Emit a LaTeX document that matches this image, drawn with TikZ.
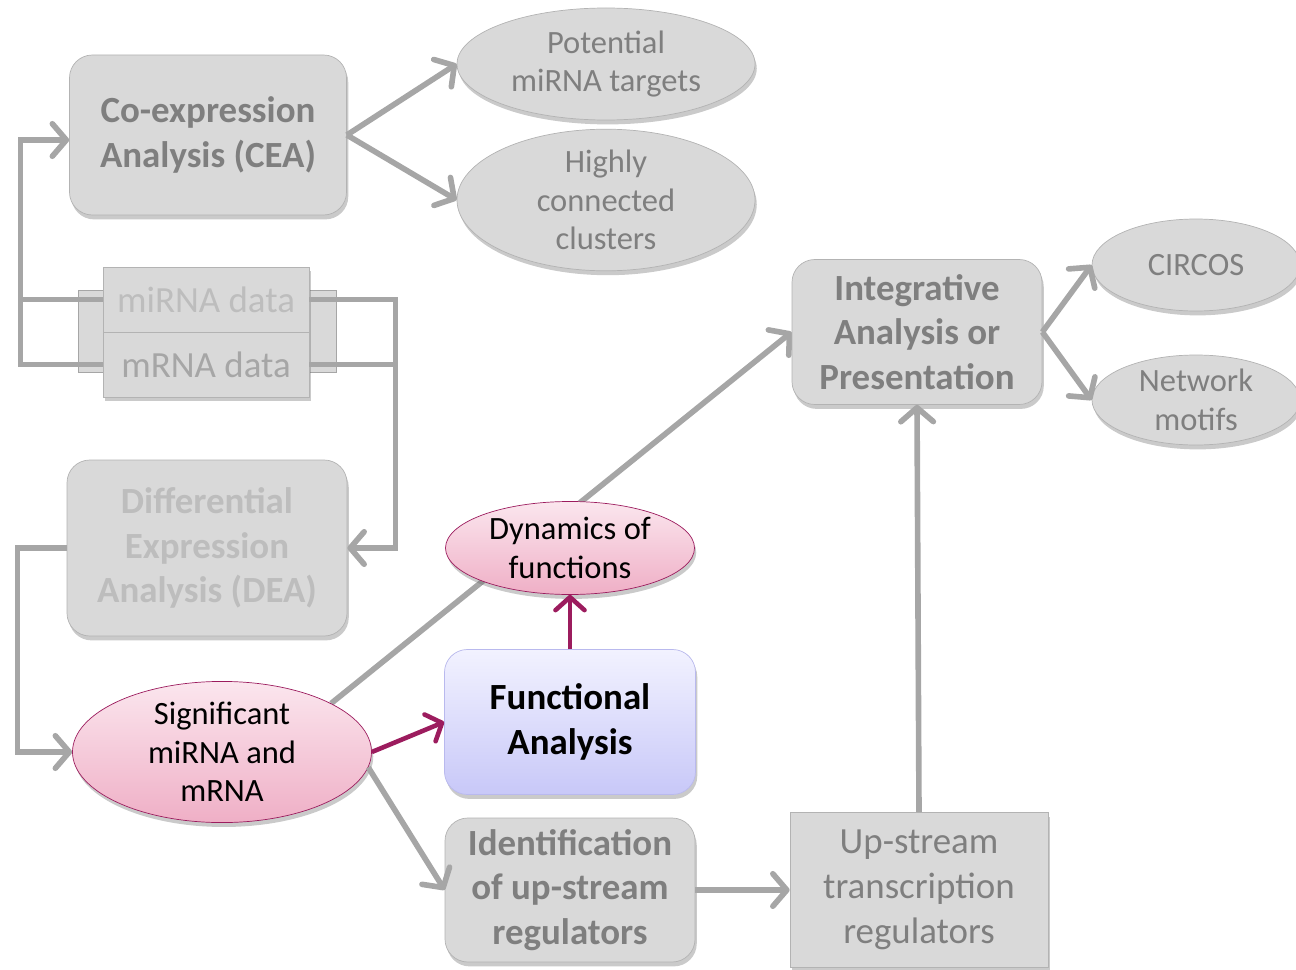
\documentclass[tikz,border=0pt]{standalone}
\usepackage{fontspec}
\setmainfont{Carlito}
\usepackage{xcolor}
\usetikzlibrary{arrows.meta,positioning,shapes.geometric,shadows,backgrounds}
\definecolor{boxfill}{HTML}{D9D9D9}
\definecolor{boxline}{HTML}{B3B3B3}
\definecolor{txtgray}{HTML}{7F7F7F}
\definecolor{txtlight}{HTML}{BDBDBD}
\definecolor{lineg}{HTML}{A6A6A6}
\definecolor{pinktop}{HTML}{FBE6EE}
\definecolor{pinkbot}{HTML}{EFAFC6}
\definecolor{magenta2}{HTML}{9C1C5E}
\definecolor{lavtop}{HTML}{F2F2FF}
\definecolor{lavbot}{HTML}{C8C8F8}
\definecolor{lavline}{HTML}{B9B9EE}

\begin{document}
\begin{tikzpicture}[
    bigfont/.style={font=\fontsize{21}{25.5}\selectfont\bfseries},
    smallfont/.style={font=\fontsize{18.5}{22}\selectfont},
    shade/.style={drop shadow={shadow xshift=1pt,shadow yshift=-2.5pt,opacity=0.35,fill=black!60}},
    box/.style={draw=boxline,fill=boxfill,rounded corners=13pt,align=center,
                text=txtgray,inner sep=0pt,bigfont,shade},
    oval/.style={draw=boxline,fill=boxfill,ellipse,align=center,text=txtgray,
                 inner sep=0pt,smallfont,shade},
    hot/.style={draw=magenta2,ellipse,top color=pinktop,bottom color=pinkbot,
                align=center,text=black,inner sep=0pt,smallfont,shade},
    cell/.style={draw=boxline,fill=boxfill,minimum width=4.12cm,minimum height=1.3cm,
                 inner sep=0pt,font=\fontsize{21}{23}\selectfont},
    gline/.style={lineg,line width=3.2pt},
    garrow/.style={gline,-{Straight Barb[round,length=2.8mm,width=6.5mm]}},
    marrow/.style={magenta2,line width=2.6pt,-{Straight Barb[round,length=2.6mm,width=5.8mm]}},
  ]
  \useasboundingbox (0,0) rectangle (25.92,-19.4);

  % inputs
  \node[draw=lineg,fill=boxfill,minimum width=5.16cm,minimum height=1.64cm]
    (tab) at (4.14,-6.62) {};
  \node[cell,text=txtlight,shade] (mirna) at (4.12,-5.99) {miRNA data};
  \node[cell,text=lineg,shade] (mrna) at (4.12,-7.29) {mRNA data};

  \node[box,minimum width=5.54cm,minimum height=3.2cm] (cea) at (4.16,-2.70)
    {Co-expression\\Analysis (CEA)};
  \node[box,text=txtlight,minimum width=5.6cm,minimum height=3.52cm] (dea) at (4.14,-10.96)
    {Differential\\Expression\\Analysis (DEA)};

  \node[oval,minimum width=5.96cm,minimum height=2.24cm] (pot) at (12.12,-1.28)
    {Potential\\miRNA targets};
  \node[oval,minimum width=5.96cm,minimum height=2.3cm] (clu) at (12.12,-4.0)
    {Highly\\connected\\clusters};

  \node[hot,minimum width=5.98cm,minimum height=2.54cm] (sig) at (4.44,-15.04)
    {Significant\\miRNA and\\mRNA};
  \node[box,draw=lavline,top color=lavtop,bottom color=lavbot,text=black,
        minimum width=5.02cm,minimum height=2.9cm] (fa) at (11.4,-14.44)
    {Functional\\Analysis};
  \node[hot,minimum width=4.98cm,minimum height=1.86cm] (dyn) at (11.4,-10.96)
    {Dynamics of\\functions};
  \node[box,minimum width=5.0cm,minimum height=2.88cm] (idr) at (11.4,-17.8)
    {Identification\\of up-stream\\regulators};
  \node[box,rounded corners=0pt,font=\fontsize{21}{25.5}\selectfont,
        minimum width=5.16cm,minimum height=3.1cm] (ups) at (18.38,-17.8)
    {Up-stream\\transcription\\regulators};

  \node[box,minimum width=5.0cm,minimum height=2.9cm] (iap) at (18.34,-6.64)
    {Integrative\\Analysis or\\Presentation};
  \node[oval,minimum width=4.16cm,minimum height=1.84cm] (circ) at (23.92,-5.3) {CIRCOS};
  \node[oval,minimum width=4.16cm,minimum height=1.8cm] (mot) at (23.92,-8.0)
    {Network\\motifs};

  % data loops
  \draw[gline] (mirna.west) -- ++(-1.64,0);
  \draw[garrow] (mrna.west) -- ++(-1.64,0) |- ([yshift=-0.1cm]cea.west);
  \draw[gline] (mrna.east) -- ++(1.72,0);
  \draw[garrow] (mirna.east) -- ++(1.72,0) |- (dea.east);
  \draw[garrow] (dea.west) -- ++(-0.98,0) |- (sig.west);

  \draw[garrow] (cea.east) -- (pot.west);
  \draw[garrow] (cea.east) -- (clu.west);
  \begin{pgfonlayer}{background}
    \draw[garrow] (sig.24) -- (iap.west);
  \end{pgfonlayer}
  \draw[marrow] (sig.east) -- (fa.west);
  \draw[marrow] (fa.north) -- (dyn.south);
  \draw[garrow] (sig.-6) -- (idr.west);
  \draw[garrow] (idr.east) -- (ups.west);
  \draw[garrow] (ups.north) -- (iap.south);
  \draw[garrow] (iap.east) -- (circ.west);
  \draw[garrow] (iap.east) -- (mot.west);
\end{tikzpicture}
\end{document}
